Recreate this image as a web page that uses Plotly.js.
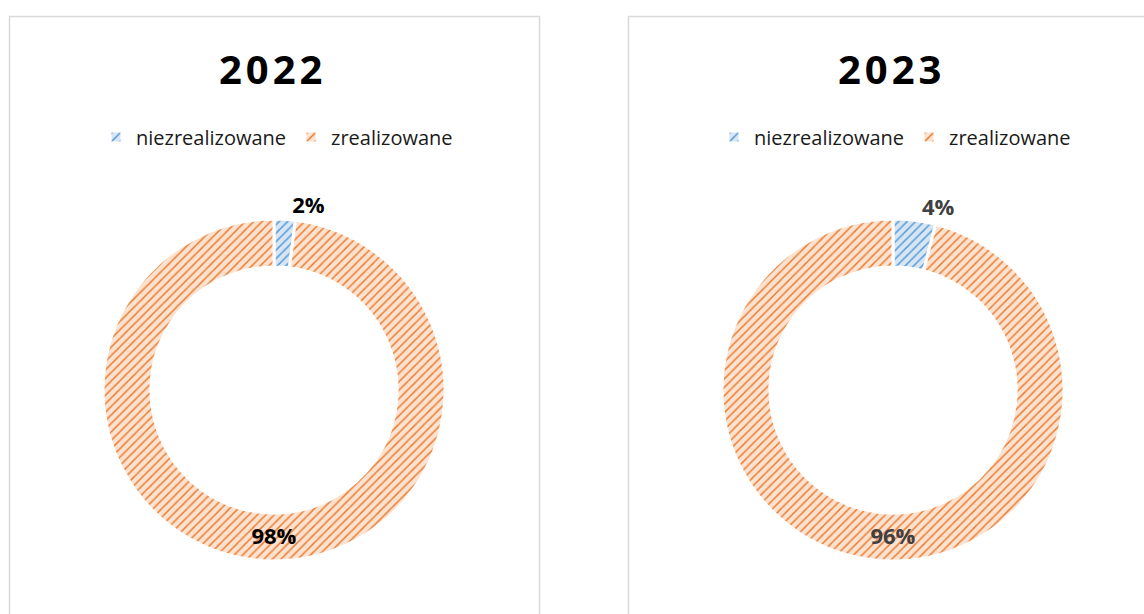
<!DOCTYPE html>
<html>
<head>
<meta charset="utf-8">
<script src="https://cdn.plot.ly/plotly-3.0.1.min.js"></script>
<style>
  html, body { margin: 0; padding: 0; background: #ffffff; }
  #chart { width: 1144px; height: 614px; }
  .annotation-text { letter-spacing: 4px; }
</style>
</head>
<body>
<div id="chart"></div>
<script>
const categories = ['niezrealizowane', 'zrealizowane'];
const years = ['2022', '2023'];
const values2022 = [2, 98];
const values2023 = [4, 96];
const labelColors = ['#000000', '#404040'];

const W = 1144, H = 614;
const px = v => v / W;
const py = v => (H - v) / H;

const fg = ['#5B9BD5', '#ED7D31'];
const bg = ['#D6E6F5', '#FCE2D0'];

function pieTrace(vals, dom, legendId, group, textColor) {
  const f = { family: 'Open Sans, sans-serif', size: 22, color: textColor, weight: 'bold' };
  return {
    type: 'pie',
    labels: categories,
    values: vals,
    text: vals.map(v => v + '%'),
    textinfo: 'text',
    textposition: vals.map(v => v < 10 ? 'outside' : 'inside'),
    insidetextorientation: 'horizontal',
    sort: false,
    direction: 'clockwise',
    rotation: 0,
    hole: 0.72,
    domain: dom,
    legend: legendId,
    legendgroup: group,
    textfont: f,
    outsidetextfont: f,
    insidetextfont: f,
    marker: {
      colors: bg,
      line: { color: '#ffffff', width: 3 },
      pattern: { shape: '/', fgcolor: fg, bgcolor: bg, size: 6, solidity: 0.25 }
    },
    hoverinfo: 'skip'
  };
}

const data = [
  pieTrace(values2022, { x: [px(103), px(445)], y: [py(561), py(219)] }, 'legend', 'g2022', labelColors[0]),
  pieTrace(values2023, { x: [px(722), px(1064)], y: [py(561), py(219)] }, 'legend2', 'g2023', labelColors[1])
];

const legendBase = {
  orientation: 'h',
  xanchor: 'center',
  yanchor: 'middle',
  y: py(137),
  font: { family: 'Open Sans, sans-serif', size: 20, color: '#1a1a1a' },
  bgcolor: 'rgba(0,0,0,0)',
  itemclick: false,
  traceorder: 'normal'
};

const layout = {
  width: W,
  height: H,
  margin: { l: 0, r: 0, t: 0, b: 0 },
  paper_bgcolor: '#ffffff',
  showlegend: true,
  legend: Object.assign({}, legendBase, { x: px(277) }),
  legend2: Object.assign({}, legendBase, { x: px(895) }),
  shapes: [
    { type: 'rect', xref: 'paper', yref: 'paper', x0: px(9.5), x1: px(539.5), y0: -0.1, y1: py(16.5),
      line: { color: '#D9D9D9', width: 1.5 }, fillcolor: 'rgba(0,0,0,0)', layer: 'below' },
    { type: 'rect', xref: 'paper', yref: 'paper', x0: px(628.5), x1: 1.1, y0: -0.1, y1: py(16.5),
      line: { color: '#D9D9D9', width: 1.5 }, fillcolor: 'rgba(0,0,0,0)', layer: 'below' }
  ],
  annotations: [
    { text: '<b>' + years[0] + '</b>', xref: 'paper', yref: 'paper', x: px(272), y: py(68),
      xanchor: 'center', yanchor: 'middle', showarrow: false,
      font: { family: 'Open Sans, sans-serif', size: 40, color: '#000000' } },
    { text: '<b>' + years[1] + '</b>', xref: 'paper', yref: 'paper', x: px(891), y: py(68),
      xanchor: 'center', yanchor: 'middle', showarrow: false,
      font: { family: 'Open Sans, sans-serif', size: 40, color: '#000000' } }
  ]
};

Plotly.newPlot('chart', data, layout, { staticPlot: true, displayModeBar: false });
</script>
</body>
</html>
